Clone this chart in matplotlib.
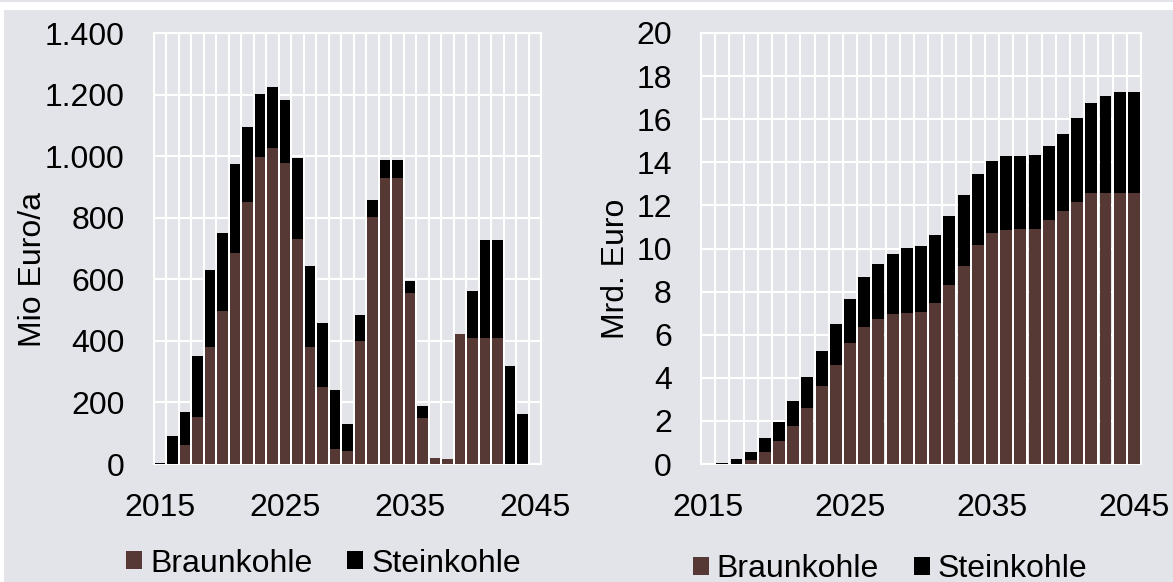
import numpy as np
import matplotlib
matplotlib.use("Agg")
import matplotlib.pyplot as plt
from matplotlib.patches import Rectangle
from matplotlib.ticker import FuncFormatter

plt.rcParams["font.family"] = ["Liberation Sans", "DejaVu Sans"]

# categories
years = list(range(2015, 2046))
labels = ["Braunkohle", "Steinkohle"]

# left: annual costs, Mio Euro/a
braun_jahr = [0, 0, 61, 152, 379, 496, 684, 850, 996, 1025, 977, 731, 379, 249, 48, 41,
              400, 803, 928, 930, 554, 149, 20, 16, 421, 408, 408, 408, 0, 0, 0]
stein_jahr = [3, 90, 109, 200, 250, 253, 290, 245, 205, 200, 206, 262, 265, 208, 191, 88,
              84, 56, 60, 58, 42, 40, 0, 0, 0, 154, 321, 321, 319, 162, 0]

# right: cumulative costs, Mrd. Euro
braun_kum = [0, 0, 0, 0.18, 0.54, 1.05, 1.75, 2.58, 3.60, 4.61, 5.60, 6.34, 6.71, 6.96, 7.02, 7.07,
             7.46, 8.29, 9.20, 10.15, 10.70, 10.84, 10.89, 10.89, 11.31, 11.72, 12.14, 12.56, 12.56,
             12.56, 12.56]
stein_kum = [0, 0.05, 0.22, 0.39, 0.65, 0.90, 1.19, 1.46, 1.63, 1.87, 2.06, 2.32, 2.59, 2.80, 2.99,
             3.06, 3.17, 3.20, 3.28, 3.32, 3.38, 3.44, 3.42, 3.43, 3.43, 3.59, 3.90, 4.21, 4.53,
             4.70, 4.70]

BG = "#e3e4e9"
BROWN = "#563834"
BLACK = "#000000"
W, H = 1173, 582

fig = plt.figure(figsize=(W / 100, H / 100), dpi=100, facecolor="white")
fig.patches.append(Rectangle((4 / W, 0), 1 - 4 / W, (H - 10) / H, transform=fig.transFigure,
                             facecolor=BG, edgecolor="none", zorder=-10))
fig.patches.append(Rectangle((0, (H - 2) / H), 1, 2 / H, transform=fig.transFigure,
                             facecolor=BG, edgecolor="none", zorder=-10))


def de_fmt(v, pos):
    return f"{int(round(v)):,}".replace(",", ".")


def draw_panel(rect, braun, stein, ymax, ystep, leg_xy):
    ax = fig.add_axes(rect)
    ax.set_facecolor(BG)
    ax.set_axisbelow(True)
    b1 = ax.bar(years, braun, width=0.84, color=BROWN, zorder=3)
    b2 = ax.bar(years, stein, bottom=braun, width=0.84, color=BLACK, zorder=3)

    ax.set_xlim(2014.5, 2045.5)
    ax.set_ylim(0, ymax)
    ax.set_xticks([2015, 2025, 2035, 2045])
    ax.set_xticks(np.arange(2014.5, 2046, 1), minor=True)
    ax.set_yticks(np.arange(0, ymax + ystep / 2, ystep))
    ax.yaxis.set_major_formatter(FuncFormatter(de_fmt))
    ax.grid(which="minor", axis="x", color="white", linewidth=1.5)
    ax.grid(which="major", axis="y", color="white", linewidth=1.5)
    ax.grid(which="major", axis="x", visible=False)
    ax.tick_params(which="both", length=0, labelsize=23, pad=21)
    for s in ax.spines.values():
        s.set_color("white")
        s.set_linewidth(1.5)

    ax.legend([b1, b2], labels, loc="center", ncol=2, frameon=False, fontsize=23,
              bbox_to_anchor=(leg_xy[0] / W, 1 - leg_xy[1] / H), bbox_transform=fig.transFigure,
              handlelength=0.5, handleheight=0.5, handletextpad=0.25, columnspacing=1.1,
              borderpad=0, borderaxespad=0)
    return ax


ax1 = draw_panel([154 / W, 1 - 464 / H, 387 / W, 431 / H], braun_jahr, stein_jahr, 1400, 200,
                 (323.5, 563.5))
ax2 = draw_panel([701 / W, 1 - 464 / H, 440 / W, 431 / H], braun_kum, stein_kum, 20, 2,
                 (890, 569))

fig.text(33 / W, 1 - 269.5 / H, "Mio Euro/a", rotation=90, ha="center", va="center", fontsize=23)
fig.text(616 / W, 1 - 269 / H, "Mrd. Euro", rotation=90, ha="center", va="center", fontsize=23)

fig.savefig("out.png", dpi=100, facecolor=fig.get_facecolor())
